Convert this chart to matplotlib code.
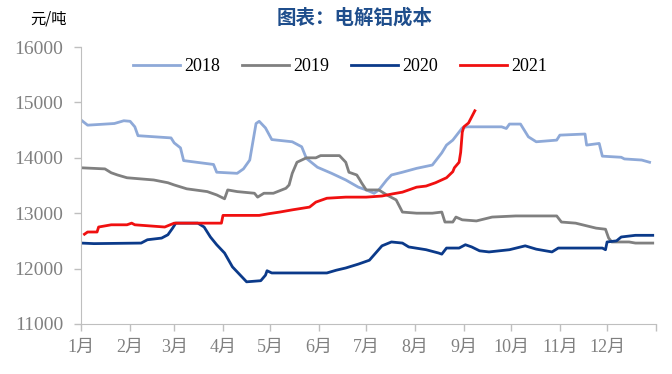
import matplotlib.pyplot as plt

# day of year / cost (yuan per tonne)
d2018 = [0, 4, 21, 27, 31, 34, 36, 57, 59, 63, 65, 84, 86, 99, 103, 107, 111, 113, 117, 121,
         134, 140, 143, 150, 159, 168, 176, 181, 186, 189, 194, 197, 204, 213, 223, 229, 232,
         236, 242, 245, 267, 270, 272, 279, 284, 289, 302, 304, 320, 321, 329, 331, 343, 345,
         356, 361]
v2018 = [14680, 14590, 14620, 14670, 14660, 14560, 14400, 14360, 14270, 14180, 13950, 13880,
         13740, 13720, 13800, 13960, 14620, 14660, 14540, 14330, 14290, 14200, 13990, 13830,
         13720, 13600, 13470, 13420, 13360, 13420, 13600, 13690, 13740, 13810, 13870, 14090,
         14230, 14320, 14540, 14560, 14560, 14530, 14610, 14610, 14380, 14290, 14320, 14410,
         14430, 14230, 14260, 14030, 14010, 13980, 13960, 13920]

d2019 = [0, 15, 19, 23, 29, 46, 55, 59, 67, 80, 86, 91, 93, 99, 110, 112, 116, 122, 130, 132,
         134, 137, 143, 149, 152, 164, 168, 170, 175, 177, 178, 181, 189, 194, 200, 204, 213,
         223, 229, 231, 236, 238, 242, 251, 261, 276, 302, 305, 314, 327, 333, 335, 337, 348,
         352, 363]
v2019 = [13820, 13800, 13730, 13690, 13640, 13600, 13550, 13510, 13440, 13390, 13330, 13260,
         13420, 13390, 13360, 13290, 13360, 13360, 13450, 13510, 13720, 13920, 14000, 14000,
         14040, 14040, 13920, 13740, 13690, 13600, 13550, 13420, 13420, 13330, 13240, 13020,
         13000, 13000, 13020, 12840, 12840, 12930, 12880, 12860, 12930, 12950, 12950, 12840,
         12820, 12730, 12710, 12550, 12480, 12480, 12460, 12460]

d2020 = [0, 8, 38, 42, 51, 55, 58, 60, 74, 78, 82, 86, 91, 96, 102, 105, 114, 117, 118, 121,
         147, 156, 162, 168, 176, 183, 187, 191, 197, 204, 208, 219, 227, 229, 232, 240, 244,
         248, 253, 259, 272, 282, 289, 299, 303, 331, 333, 334, 340, 343, 352, 363]
v2020 = [12460, 12450, 12460, 12520, 12550, 12610, 12730, 12820, 12820, 12750, 12570, 12430,
         12280, 12030, 11850, 11760, 11780, 11880, 11960, 11920, 11920, 11920, 11970, 12010,
         12080, 12150, 12280, 12410, 12480, 12460, 12390, 12340, 12280, 12260, 12370, 12370,
         12430, 12390, 12320, 12300, 12340, 12410, 12350, 12300, 12370, 12370, 12340, 12480,
         12500, 12570, 12600, 12600]

d2021 = [2, 4, 10, 11, 19, 29, 32, 34, 53, 59, 89, 90, 113, 119, 126, 134, 145, 149, 156, 168,
         181, 191, 198, 204, 213, 219, 225, 232, 236, 237, 240, 241, 242, 243, 246, 248, 250]
v2021 = [12620, 12660, 12660, 12750, 12790, 12790, 12820, 12790, 12750, 12820, 12820, 12960,
         12960, 12990, 13020, 13060, 13110, 13200, 13270, 13290, 13290, 13310, 13350, 13380,
         13470, 13490, 13550, 13640, 13750, 13820, 13920, 14100, 14460, 14560, 14630, 14740,
         14850]

month_starts = [0, 31, 59, 90, 120, 151, 181, 212, 243, 273, 304, 334, 365]
month_labels = ['1月', '2月', '3月', '4月', '5月', '6月', '7月', '8月', '9月', '10月', '11月', '12月', '']

fonts = ['Liberation Serif', 'Noto Sans CJK SC']
grey = '#808080'

fig = plt.figure(figsize=(6.72, 3.74), dpi=100)
ax = fig.add_axes([0.121, 0.134, 0.855, 0.74])

ax.plot(d2018, v2018, color='#8EA9D8', lw=2, label='2018')
ax.plot(d2019, v2019, color='#808080', lw=2, label='2019')
ax.plot(d2020, v2020, color='#0B3A8A', lw=2, label='2020')
ax.plot(d2021, v2021, color='#F01010', lw=2, label='2021')

ax.set_xlim(0, 365)
ax.set_ylim(11000, 16000)
ax.set_xticks(month_starts)
ax.set_xticklabels(month_labels, family=fonts, fontsize=13, color=grey)
ax.set_yticks(range(11000, 16001, 1000))
ax.set_yticklabels([str(v) for v in range(11000, 16001, 1000)], family=fonts,
                   fontsize=14, color=grey)

for s in ['top', 'right']:
    ax.spines[s].set_visible(False)
for s in ['left', 'bottom']:
    ax.spines[s].set_color('#BFBFBF')
ax.tick_params(axis='both', color='#BFBFBF', length=5, width=1)
ax.tick_params(axis='y', pad=8)
ax.tick_params(axis='x', pad=6)

ax.legend(loc='upper center', bbox_to_anchor=(0.45, 1.02), ncol=4, frameon=False,
          prop={'family': fonts, 'size': 13}, handlelength=2.6, handletextpad=0.25,
          columnspacing=1.2)

fig.text(0.528, 0.952, '图表：电解铝成本', family='Noto Sans CJK SC', fontweight='bold',
         fontsize=14, color='#1F4E8C', ha='center', va='center')
fig.text(0.072, 0.948, '元/吨', family=['Noto Sans CJK SC'], fontsize=11, color='black',
         ha='center', va='center')

fig.savefig('out.png', dpi=100)
